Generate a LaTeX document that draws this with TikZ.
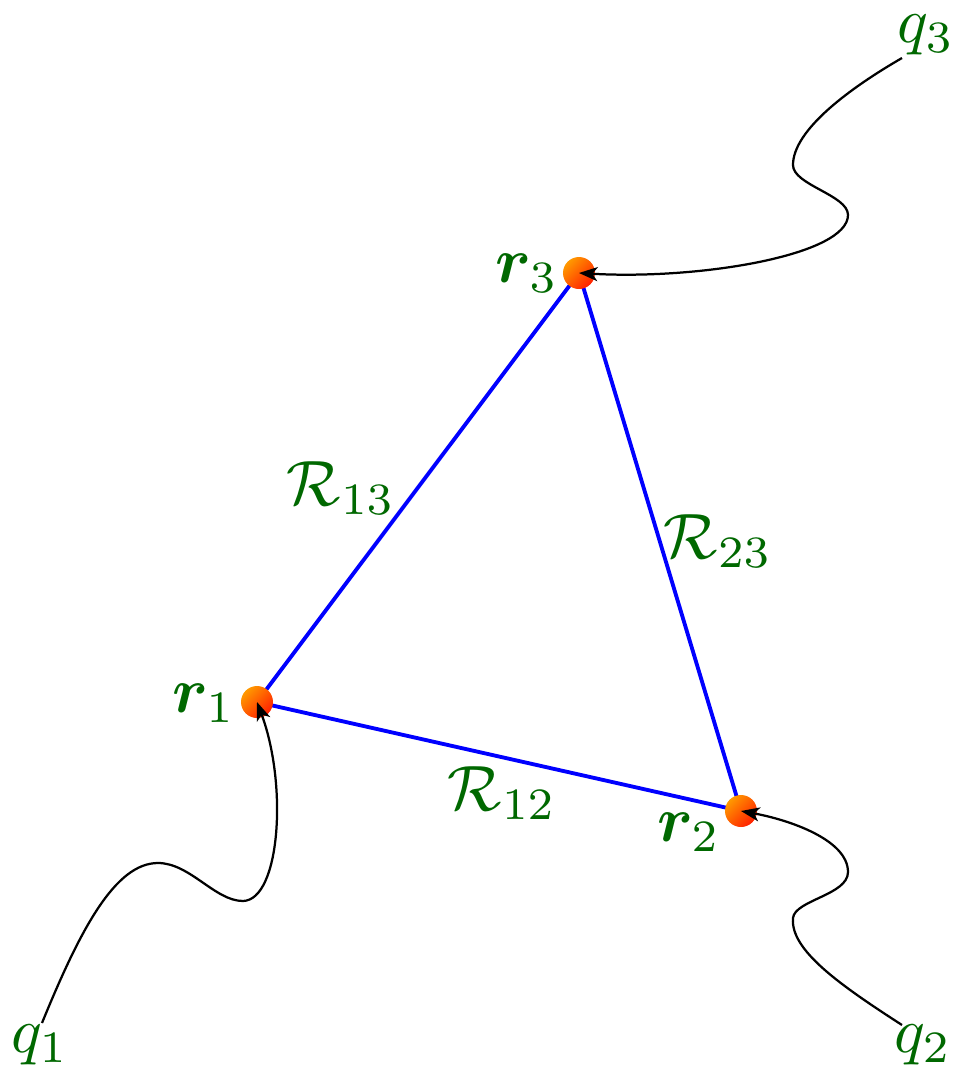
\documentclass[tikz,border=0pt]{standalone}
\usepackage{amsmath}
\usepackage{bm}
\usetikzlibrary{arrows.meta}
\definecolor{lblgreen}{RGB}{0,104,0}
\tikzset{
  lbl/.style={text=lblgreen, inner sep=0pt},
  bond/.style={blue, line width=0.6pt},
  ball/.style={circle, minimum size=32*0.156pt, inner sep=0pt, top color=orange!80!yellow, bottom color=red!75!orange, shading angle=45},
  wave/.style={black, line width=0.35pt, -{Stealth[length=2.9pt, width=2.2pt, inset=0.8pt]}}
}
\begin{document}
\begin{tikzpicture}[x=0.156pt, y=-0.156pt]
\useasboundingbox (0,0) rectangle (967,1082);
% ball positions
\coordinate (c1) at (257,702);
\coordinate (c2) at (741,811);
\coordinate (c3) at (579,273);
\draw[bond] (c1) -- (c3);
\draw[bond] (c3) -- (c2);
\draw[bond] (c1) -- (c2);
\node[ball] (b1) at (c1) {};
\node[ball] (b2) at (c2) {};
\node[ball] (b3) at (c3) {};
% labels
\node[lbl] (r1) at (204,703) {$\bm{r}_1$};
\node[lbl] (r2) at (689,832) {$\bm{r}_2$};
\node[lbl] (r3) at (527,273) {$\bm{r}_3$};
\node[lbl] (R13) at (341,488) {$\mathcal{R}_{13}$};
\node[lbl] (R23) at (718,541) {$\mathcal{R}_{23}$};
\node[lbl] (R12) at (502,793) {$\mathcal{R}_{12}$};
\node[lbl] (q1) at (40,1045) {$q_1$};
\node[lbl] (q2) at (923,1045) {$q_2$};
\node[lbl] (q3) at (926,35) {$q_3$};
% wavy connectors
\coordinate (s1) at (42,1023);
\coordinate (s2) at (902,1025);
\coordinate (s3) at (902,58);
\draw[wave] (s1) .. controls (80,930) and (115,863) .. (158,863)
  .. controls (190,863) and (215,901) .. (243,901)
  .. controls (280,900) and (288,785) .. (b1.center);
\draw[wave] (s2) .. controls (840,985) and (790,950) .. (793,918)
  .. controls (795,900) and (848,895) .. (848,872)
  .. controls (848,840) and (790,820) .. (b2.center);
\draw[wave] (s3) .. controls (850,88) and (793,130) .. (793,165)
  .. controls (793,185) and (848,195) .. (848,215)
  .. controls (848,255) and (700,280) .. (b3.center);
\end{tikzpicture}
\end{document}
